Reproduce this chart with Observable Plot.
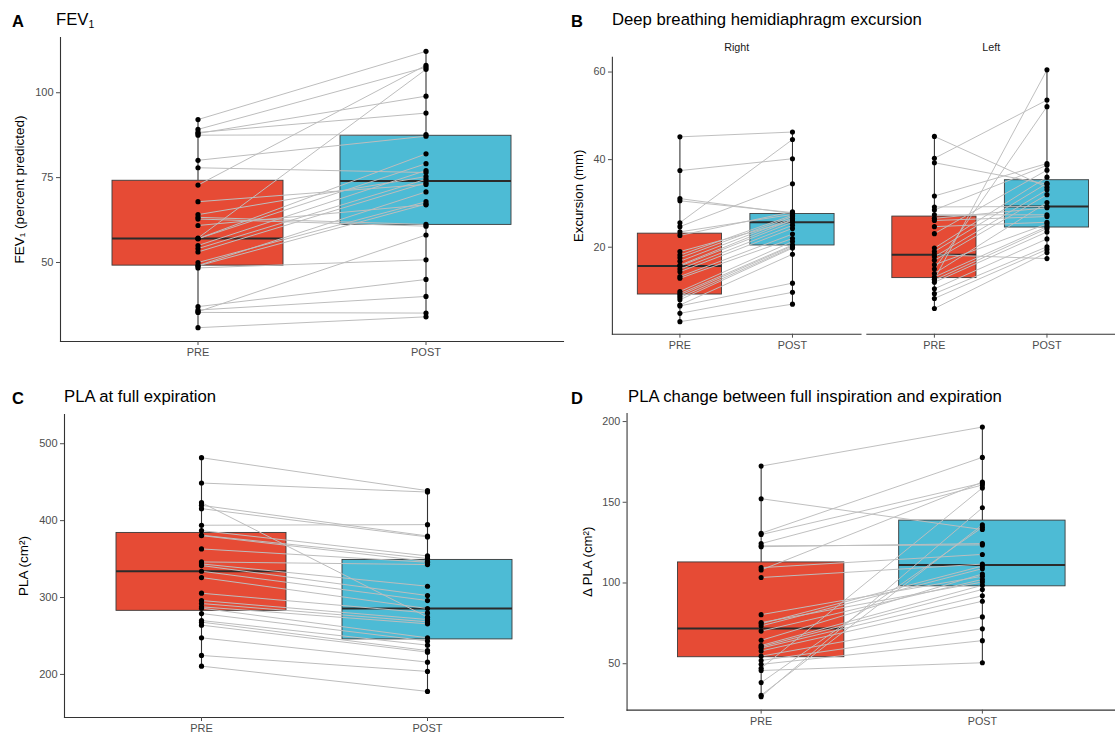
<!DOCTYPE html>
<html><head><meta charset="utf-8">
<script src="https://cdn.jsdelivr.net/npm/d3@7"></script>
<script src="https://cdn.jsdelivr.net/npm/@observablehq/plot@0.6"></script>
<style>
body{margin:0;background:#fff;}
#fig{position:relative;width:1115px;height:736px;overflow:hidden;font-family:"Liberation Sans",Arial,sans-serif;color:#000;}
.panel{position:absolute;}
.tag{position:absolute;font-weight:bold;font-size:16.5px;line-height:1;}
.ttl{position:absolute;font-size:16.7px;line-height:1;}
.ttl sub{font-size:10.5px;vertical-align:-3px;}
</style>
</head><body>
<div id="fig">
  <div class="tag" style="left:12px;top:13px">A</div>
  <div class="ttl" style="left:56px;top:12px">FEV<sub>1</sub></div>
  <div class="tag" style="left:571px;top:13px">B</div>
  <div class="ttl" style="left:612px;top:12px">Deep breathing hemidiaphragm excursion</div>
  <div class="tag" style="left:12px;top:390px">C</div>
  <div class="ttl" style="left:64px;top:389px">PLA at full expiration</div>
  <div class="tag" style="left:571px;top:390px">D</div>
  <div class="ttl" style="left:628px;top:389px">PLA change between full inspiration and expiration</div>
</div>
<script>
// ---------- data ----------
const times = ["PRE", "POST"];
const sides = ["Right", "Left"];

// A: FEV1 (percent predicted), paired by index
const fevPre  = [92.1, 89.2, 88.3, 88.0, 87.5, 80.1, 77.9, 72.8, 67.9, 64.1, 63.3, 62.8, 60.9, 57.2, 57.0, 57.0, 55.0, 54.1, 53.1, 50.0, 49.1, 49.0, 48.4, 37.0, 36.0, 35.5, 35.3, 30.8];
const fevPost = [112.2, 107.5, 94.0, 99.0, 87.7, 87.2, 76.5, 108.1, 73.0, 75.3, 61.2, 60.7, 67.0, 106.9, 82.0, 79.1, 77.1, 74.5, 73.5, 67.9, 70.8, 67.2, 50.8, 45.0, 40.0, 58.1, 35.1, 34.0];

// B: excursion (mm), right and left hemidiaphragm
const rightPre  = [45.2, 37.5, 31.1, 30.6, 25.6, 24.7, 23.5, 22.7, 19.0, 18.2, 17.6, 16.8, 15.9, 15.7, 15.0, 14.4, 13.3, 12.9, 9.9, 9.4, 9.0, 8.5, 8.0, 6.8, 6.6, 4.9, 3.0];
const rightPost = [46.3, 40.2, 27.7, 27.9, 44.6, 34.5, 27.5, 28.1, 26.0, 27.3, 27.0, 26.6, 26.3, 25.7, 25.0, 24.3, 23.0, 22.0, 21.3, 20.5, 20.3, 20.0, 19.8, 18.4, 11.8, 9.7, 7.0];
const leftPre   = [45.3, 40.3, 39.3, 31.7, 29.2, 28.5, 27.4, 26.6, 26.1, 24.7, 23.1, 19.8, 19.0, 18.3, 17.8, 17.0, 16.0, 15.0, 14.0, 13.2, 12.7, 12.5, 12.0, 10.5, 9.4, 8.3, 6.0];
const leftPost  = [33.7, 53.6, 34.4, 39.1, 29.3, 38.7, 27.4, 29.0, 27.0, 25.7, 37.6, 36.0, 34.6, 17.4, 33.1, 32.0, 25.3, 52.1, 30.2, 24.7, 60.5, 24.3, 23.5, 21.9, 20.1, 19.5, 18.8];

// C: PLA at full expiration (cm2)
const plaPre  = [481.8, 448.9, 423.4, 419.9, 415.6, 394.0, 387.0, 381.0, 380.5, 363.2, 346.3, 343.7, 341.6, 334.2, 326.0, 305.6, 296.1, 292.2, 287.9, 286.2, 279.2, 270.1, 268.0, 264.1, 247.6, 224.7, 210.8];
const plaPost = [439.0, 437.2, 274.5, 380.0, 378.8, 394.8, 354.1, 350.8, 347.0, 345.9, 342.9, 314.7, 302.6, 296.1, 285.7, 280.0, 271.4, 268.4, 265.8, 247.6, 243.5, 238.1, 231.0, 229.0, 216.0, 203.9, 177.9];

// D: delta PLA (cm2)
const dplaPre  = [172.4, 152.2, 130.8, 130.0, 124.4, 123.0, 122.5, 109.5, 108.1, 103.4, 80.4, 75.5, 74.8, 73.4, 70.2, 64.5, 61.3, 60.5, 59.7, 57.9, 54.7, 52.0, 49.6, 47.2, 45.8, 38.3, 30.5, 29.6];
const dplaPost = [196.6, 133.1, 177.8, 161.9, 160.7, 123.6, 124.4, 117.7, 162.5, 111.7, 104.2, 100.6, 110.5, 108.9, 102.2, 105.6, 98.6, 96.0, 92.1, 88.7, 79.0, 71.6, 64.3, 158.9, 50.6, 134.5, 136.0, 146.6];

const colors = ["#E64B35", "#4DBBD5"];

// ---------- helpers ----------
function longForm(pre, post, side) {
  return pre.flatMap((v, i) => [
    {id: (side || "") + i, side, time: "PRE", value: v},
    {id: (side || "") + i, side, time: "POST", value: post[i]}
  ]);
}
function boxStats(rows, keys) {
  return d3.flatRollup(rows, v => {
    const s = d3.sort(v.map(d => d.value));
    return {q1: d3.quantile(s, .25), med: d3.quantile(s, .5), q3: d3.quantile(s, .75), min: s[0], max: s[s.length - 1]};
  }, ...keys.map(k => d => d[k])).map(r => {
    const o = {};
    keys.forEach((k, i) => o[k] = r[i]);
    return Object.assign(o, r[keys.length]);
  });
}
function extentPad(vals) {
  const [a, b] = d3.extent(vals);
  const p = (b - a) * 0.05;
  return [a - p, b + p];
}

function panel({rows, facet, yDomain, yTicks, yLabel, width, height, ml, mt, mb, labelOffset, fxPad}) {
  const keys = facet ? ["side", "time"] : ["time"];
  const st = boxStats(rows, keys);
  const fx = facet ? {fx: "side"} : {};
  const marks = [
    Plot.ruleX(st, {x: "time", y1: "min", y2: "q1", stroke: "#333", strokeWidth: 1.1, ...fx}),
    Plot.ruleX(st, {x: "time", y1: "q3", y2: "max", stroke: "#333", strokeWidth: 1.1, ...fx}),
    Plot.barY(st, {x: "time", y1: "q1", y2: "q3", fill: "time", stroke: "#3a3a3a", strokeWidth: 0.9, ...fx}),
    Plot.tickY(st, {x: "time", y: "med", stroke: "#2b2b2b", strokeWidth: 2, ...fx}),
    Plot.line(rows, {x: "time", y: "value", z: "id", stroke: "#bdbdbd", strokeWidth: 1, ...fx}),
    Plot.dot(rows, {x: "time", y: "value", r: 2.6, fill: "#000", stroke: "none", ...fx}),
    Plot.frame({anchor: "bottom", stroke: "#333", strokeWidth: 1.1}),
    Plot.frame({anchor: "left", stroke: "#333", strokeWidth: 1.1, ...(facet ? {facetAnchor: "left"} : {})}),
    Plot.axisY({ticks: yTicks, tickSize: 4, tickPadding: 3, color: "#4d4d4d", fontSize: 11, label: null}),
    Plot.axisY({ticks: [], tickSize: 0, label: yLabel, labelAnchor: "center", labelOffset, labelArrow: "none", fill: "#000", fontSize: 13.5}),
    Plot.axisX({tickSize: 4, tickPadding: 3, color: "#4d4d4d", fontSize: 11, label: null})
  ];
  if (facet) marks.push(Plot.axisFx({anchor: "top", tickSize: 0, tickPadding: 6, label: null, fill: "#1a1a1a", fontSize: 11}));
  return Plot.plot({
    width, height,
    marginLeft: ml, marginRight: 0, marginTop: mt, marginBottom: mb,
    style: {fontFamily: '"Liberation Sans", Arial, sans-serif', fontSize: "11px", background: "transparent", overflow: "visible"},
    x: {type: "band", domain: times, paddingInner: 0.25, paddingOuter: 0.225},
    y: {domain: yDomain},
    ...(facet ? {fx: {domain: sides, paddingInner: fxPad, paddingOuter: 0}} : {}),
    color: {domain: times, range: colors},
    marks
  });
}

const fig = document.getElementById("fig");
function place(svg, left, top) {
  const d = document.createElement("div");
  d.className = "panel";
  d.style.left = left + "px";
  d.style.top = top + "px";
  d.appendChild(svg);
  fig.appendChild(d);
}

const rowsA = longForm(fevPre, fevPost);
place(panel({rows: rowsA, yDomain: extentPad(rowsA.map(d => d.value)), yTicks: [50, 75, 100],
  yLabel: "FEV\u2081 (percent predicted)", width: 563, height: 370, ml: 60, mt: 37, mb: 29, labelOffset: 46}), 0, 0);

const rowsB = longForm(rightPre, rightPost, "Right").concat(longForm(leftPre, leftPost, "Left"));
place(panel({rows: rowsB, facet: true, yDomain: extentPad(rowsB.map(d => d.value)), yTicks: [20, 40, 60],
  yLabel: "Excursion (mm)", width: 567, height: 370, ml: 53, mt: 58, mb: 29, labelOffset: 40, fxPad: 0.0232}), 560, 0);

const rowsC = longForm(plaPre, plaPost);
place(panel({rows: rowsC, yDomain: [144, 538], yTicks: [200, 300, 400, 500],
  yLabel: "PLA (cm\u00b2)", width: 563, height: 366, ml: 64, mt: 44, mb: 19, labelOffset: 46}), 0, 370);

const rowsD = longForm(dplaPre, dplaPost);
place(panel({rows: rowsD, yDomain: extentPad(rowsD.map(d => d.value)), yTicks: [50, 100, 150, 200],
  yLabel: "\u0394 PLA (cm\u00b2)", width: 567, height: 366, ml: 68, mt: 44, mb: 19, labelOffset: 45}), 560, 370);
</script>
</body></html>
